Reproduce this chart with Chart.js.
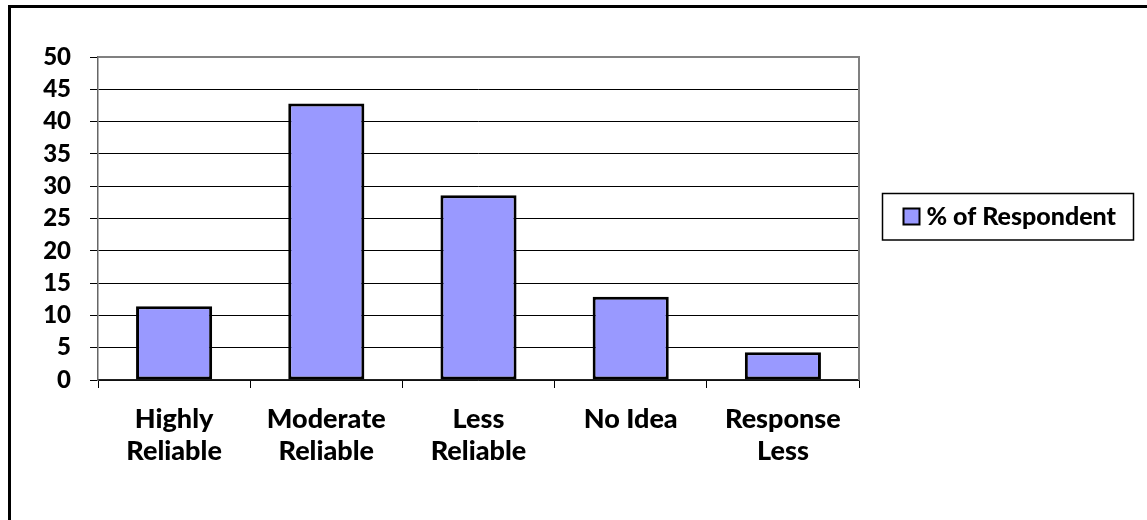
<!DOCTYPE html>
<html>
<head>
<meta charset="utf-8">
<script src="https://cdn.jsdelivr.net/npm/chart.js@4.4.1/dist/chart.umd.min.js"></script>
<style>
  html, body { margin: 0; padding: 0; background: #fff; }
  #wrap { position: relative; width: 1147px; height: 520px; }
</style>
</head>
<body>
<div id="wrap"><canvas id="chart"></canvas></div>
<script>
const categories = [['Highly', 'Reliable'], ['Moderate', 'Reliable'], ['Less', 'Reliable'], ['No Idea'], ['Response', 'Less']];
const respondentPct = [11.4, 42.8, 28.6, 12.9, 4.3];
const seriesLabel = '% of Respondent';
const yTicks = [0, 5, 10, 15, 20, 25, 30, 35, 40, 45, 50];

const FONT = 'Lato';
const WEIGHT = '900';
const BAR_FILL = '#9999FF';

// outer frame, plot border and the boxed legend on the right
const decor = {
  id: 'decor',
  beforeDraw(chart) {
    const c = chart.ctx;
    c.save();
    c.strokeStyle = '#000';
    c.lineWidth = 3;
    c.beginPath();
    c.moveTo(9.5, 530);
    c.lineTo(9.5, 6.5);
    c.lineTo(1160, 6.5);
    c.stroke();
    c.restore();
  },
  afterDraw(chart) {
    const c = chart.ctx;
    const a = chart.chartArea;
    c.save();
    c.strokeStyle = '#808080';
    c.lineWidth = 2;
    c.beginPath();
    c.moveTo(a.left, a.top);
    c.lineTo(a.right, a.top);
    c.lineTo(a.right, a.bottom);
    c.stroke();

    // legend
    const lx = a.right + 23.5, ly = 193.5, lw = 251, lh = 46.5;
    c.strokeStyle = '#000';
    c.lineWidth = 1.5;
    c.strokeRect(lx, ly, lw, lh);
    const ds = chart.data.datasets[0];
    const sx = lx + 21, sy = ly + 15;
    c.fillStyle = ds.backgroundColor;
    c.fillRect(sx, sy, 16, 16);
    c.lineWidth = 2;
    c.strokeRect(sx, sy, 16, 16);
    c.fillStyle = '#000';
    c.font = WEIGHT + ' 25px ' + FONT;
    c.textBaseline = 'middle';
    c.textAlign = 'left';
    c.fillText(ds.label, sx + 23, ly + lh / 2);
    c.restore();
  }
};

new Chart(document.getElementById('chart'), {
  type: 'bar',
  data: {
    labels: categories,
    datasets: [{
      label: seriesLabel,
      data: respondentPct,
      backgroundColor: BAR_FILL,
      borderColor: '#000',
      borderWidth: 3,
      borderSkipped: false,
      barPercentage: 1,
      categoryPercentage: 0.5
    }]
  },
  options: {
    responsive: true,
    maintainAspectRatio: false,
    animation: false,
    layout: { padding: { left: 0, right: 288, top: 57, bottom: 0 } },
    plugins: {
      legend: { display: false },
      tooltip: { enabled: false }
    },
    scales: {
      x: {
        afterFit(scale) { scale.height = 140; },
        grid: {
          offset: true,
          drawOnChartArea: false,
          tickLength: 8,
          color: '#000',
          lineWidth: 1
        },
        border: { color: '#222', width: 1.5 },
        ticks: {
          color: '#000',
          padding: 15,
          maxRotation: 0,
          autoSkip: false,
          font: { family: FONT, weight: WEIGHT, size: 27, lineHeight: 1.19 }
        }
      },
      y: {
        min: yTicks[0],
        max: yTicks[yTicks.length - 1],
        afterFit(scale) { scale.width = 98; },
        afterBuildTicks(scale) { scale.ticks = yTicks.map(v => ({ value: v })); },
        grid: {
          color: ctx => ctx.tick && ctx.tick.value === 50 ? '#808080' : '#000',
          tickColor: '#000',
          tickLength: 8,
          lineWidth: 1
        },
        border: { color: '#666', width: 1.5 },
        ticks: {
          color: '#000',
          padding: 19,
          autoSkip: false,
          font: { family: FONT, weight: WEIGHT, size: 24 }
        }
      }
    }
  },
  plugins: [decor]
});
</script>
</body>
</html>
